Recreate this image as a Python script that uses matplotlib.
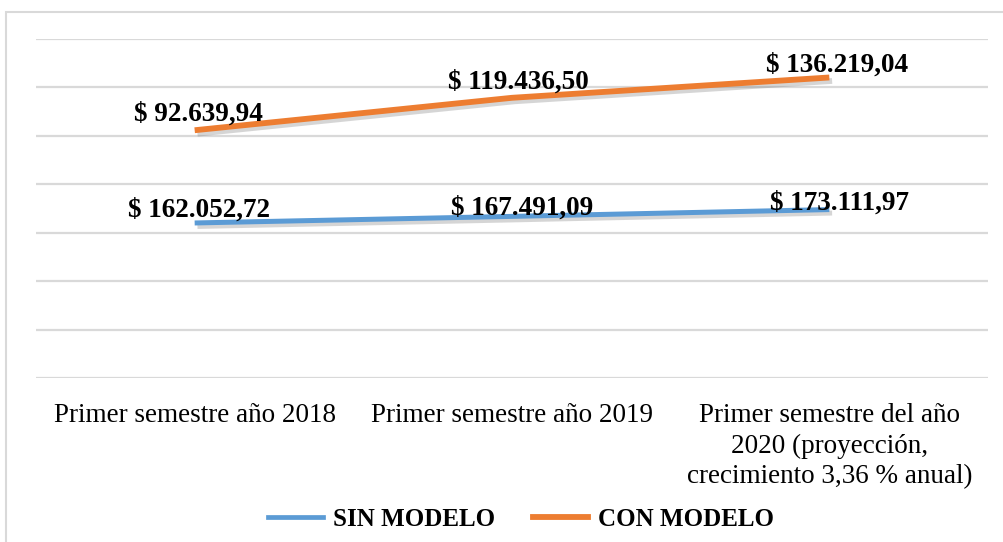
import numpy as np
import matplotlib
matplotlib.use("Agg")
import matplotlib.pyplot as plt
import matplotlib.patheffects as pe
from matplotlib.patches import Rectangle

plt.rcParams["font.family"] = ["Liberation Serif", "DejaVu Serif"]

categories = ["Primer semestre año 2018",
              "Primer semestre año 2019",
              "Primer semestre del año\n2020 (proyección,\ncrecimiento 3,36 % anual)"]
sin_modelo = [162052.72, 167491.09, 173111.97]
con_modelo = [92639.94, 119436.50, 136219.04]

BLUE = "#5B9BD5"
ORANGE = "#ED7D31"
GRID = "#d9d9d9"


def money(v):
    s = "{:,.2f}".format(v).replace(",", "X").replace(".", ",").replace("X", ".")
    return "$ " + s


fig = plt.figure(figsize=(10.04, 5.42), dpi=100)
ax = fig.add_axes([36 / 1004, 1 - 378 / 542, 952 / 1004, 339 / 542])
ax2 = ax.twinx()

x = np.arange(len(categories))
shadow = [pe.SimpleLineShadow(offset=(2, -2.5), shadow_color="#777777", alpha=0.3),
          pe.Normal()]

# each series on its own value axis (same scale, different offset)
lo1, hi1 = -112000, 168000
lo2, hi2 = 34000, 314000
ax.plot(x, con_modelo, color=ORANGE, lw=4.2, solid_capstyle="butt",
        path_effects=shadow, zorder=3)
ax2.plot(x, sin_modelo, color=BLUE, lw=3.6, solid_capstyle="butt",
         path_effects=shadow, zorder=3)
ax.set_ylim(lo1, hi1)
ax2.set_ylim(lo2, hi2)
ax.set_xlim(-0.5, 2.5)

ax.set_yticks(np.linspace(lo1, hi1, 8))
ax.yaxis.grid(True, color=GRID, lw=1.6)
ax.set_axisbelow(True)
ax.tick_params(axis="y", length=0, labelleft=False)
ax2.set_yticks([])
ax.set_xticks(x)
ax.set_xticklabels(categories, fontsize=19.5, linespacing=1.3)
ax.tick_params(axis="x", length=0, pad=18)
for a in (ax, ax2):
    for s in a.spines.values():
        s.set_visible(False)

con_off = [(4, 16), (6, 16), (8, 12)]
sin_off = [(4, 13), (10, 8), (10, 6)]
for i in range(len(x)):
    ax.annotate(money(con_modelo[i]), (x[i], con_modelo[i]), xytext=con_off[i],
                textcoords="offset pixels", ha="center", va="center",
                fontsize=19.5, fontweight="bold", zorder=5)
    ax2.annotate(money(sin_modelo[i]), (x[i], sin_modelo[i]), xytext=sin_off[i],
                 textcoords="offset pixels", ha="center", va="center",
                 fontsize=19.5, fontweight="bold", zorder=5)

h1, = ax.plot([], [], color=BLUE, lw=3.4)
h2, = ax.plot([], [], color=ORANGE, lw=4.2)
fig.legend([h1, h2], ["SIN MODELO", "CON MODELO"], loc="center",
           bbox_to_anchor=(521 / 1004, 1 - 519 / 542), ncol=2, frameon=False,
           prop={"size": 18, "weight": "bold"}, handlelength=2.2,
           handletextpad=0.4, columnspacing=1.5)

fig.patches.append(Rectangle((6 / 1004, -0.1), 1.2, 1.1 - 12 / 542,
                             transform=fig.transFigure, fill=False,
                             edgecolor=GRID, lw=1.5))

fig.savefig("out.png", dpi=100)
